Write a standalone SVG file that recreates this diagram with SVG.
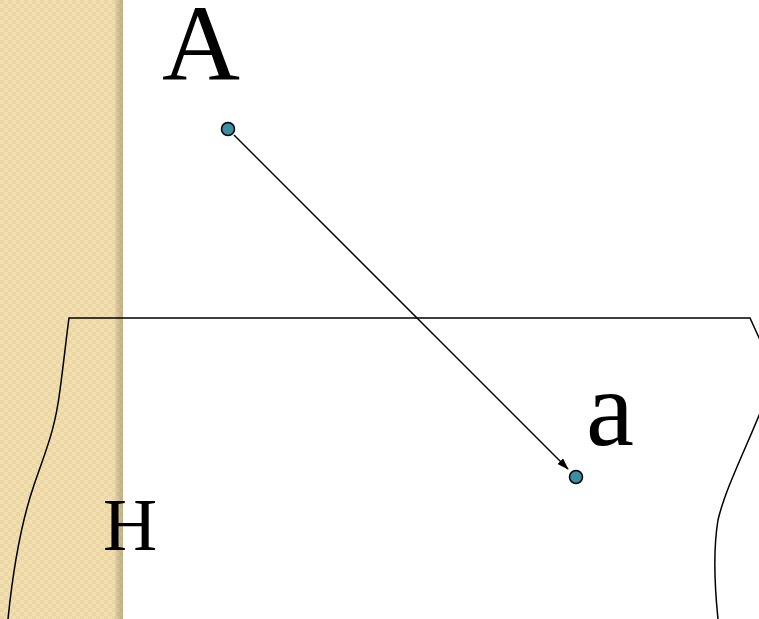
<svg xmlns="http://www.w3.org/2000/svg" width="759" height="619" viewBox="0 0 759 619">
<defs>
<pattern id="chk" width="8" height="8" patternUnits="userSpaceOnUse">
<rect width="8" height="8" fill="#F1DFB2"/>
<rect width="4" height="4" fill="#ECD7A4"/>
<rect x="4" y="4" width="4" height="4" fill="#ECD7A4"/>
</pattern>
<linearGradient id="shade" x1="0" x2="1" y1="0" y2="0">
<stop offset="0" stop-color="#000" stop-opacity="0"/>
<stop offset="1" stop-color="#7a6a40" stop-opacity="0.35"/>
</linearGradient>
<marker id="arr" markerWidth="12" markerHeight="8" refX="11" refY="4" orient="auto" markerUnits="userSpaceOnUse">
<path d="M0,0 L12,4 L0,8 Z" fill="#000"/>
</marker>
<style>
.lbl{font-family:"Liberation Serif","Times New Roman",serif;fill:#000}
.pt{fill:#3A8FA3;stroke:#000;stroke-width:1.5}
.edge{fill:none;stroke:#000;stroke-width:1.5}
</style>
</defs>
<rect width="759" height="619" fill="#fff"/>
<rect x="0" y="0" width="123" height="619" fill="url(#chk)"/>
<rect x="114" y="0" width="9" height="619" fill="url(#shade)"/>
<g id="plane-H">
<path class="edge" d="M8,619 C14,560 22,520 34,485 C46,450 55,430 60,390 C64,360 66,340 69,318 L750,318 L760,340"/>
<path class="edge" d="M760,413 C745,450 725,490 718,520 C713,550 715,590 718,619"/>
<text class="lbl" x="103" y="550" font-size="75">H</text>
</g>
<g id="point-A">
<circle class="pt" cx="228" cy="129" r="6.5"/>
<text class="lbl" x="162" y="80" font-size="108">A</text>
</g>
<g id="point-a">
<circle class="pt" cx="576" cy="477" r="6.5"/>
<text class="lbl" x="586" y="445" font-size="108">a</text>
</g>
<g id="connectors">
<line class="edge" x1="234" y1="135" x2="568" y2="469" marker-end="url(#arr)"/>
</g>
</svg>
